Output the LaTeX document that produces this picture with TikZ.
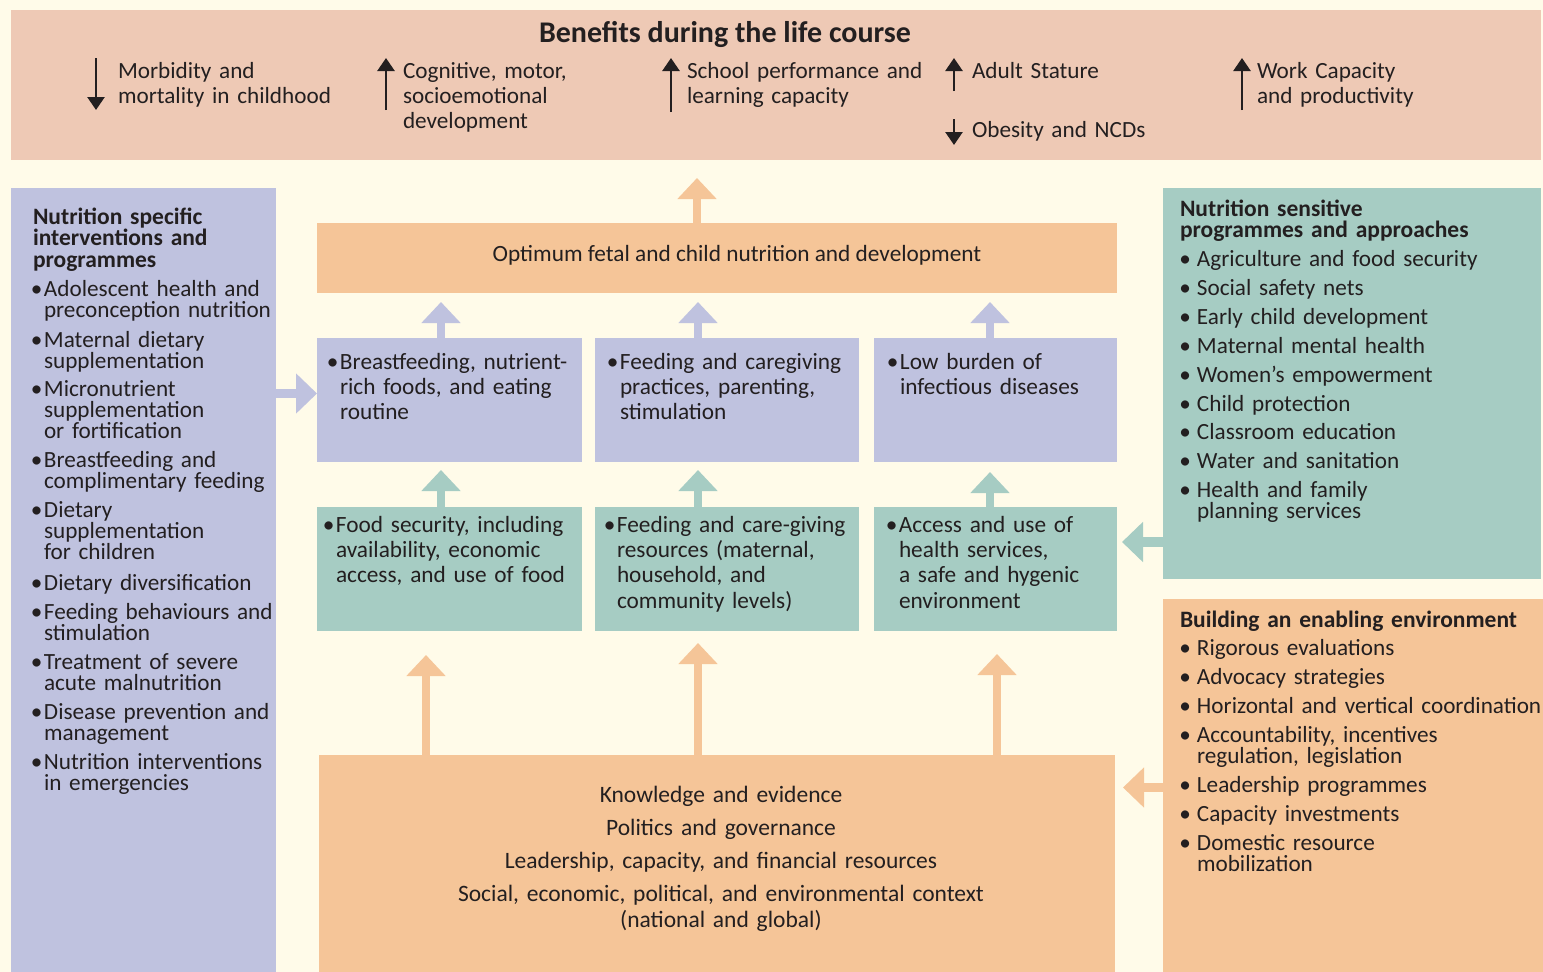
\documentclass[tikz,border=0pt]{standalone}
\usepackage{fontspec}
\setmainfont{Carlito}
\usetikzlibrary{arrows.meta}
\definecolor{bgc}{HTML}{FFFBE9}
\definecolor{topc}{HTML}{EEC9B5}
\definecolor{purc}{HTML}{BFC2DF}
\definecolor{tealc}{HTML}{A6CCC3}
\definecolor{orc}{HTML}{F5C598}
\definecolor{ink}{HTML}{231F20}
\lineskiplimit=-100pt
\newcommand\bodyf{\fontsize{23.2}{21}\selectfont\lineskiplimit=-100pt}
\newcommand\boxf{\fontsize{23.3}{25.4}\selectfont\lineskiplimit=-100pt}
\newcommand\benf{\fontsize{23.2}{25}\selectfont\lineskiplimit=-100pt}
\newcommand\headf{\fontsize{23.5}{21.5}\selectfont\bfseries\lineskiplimit=-100pt}
\newcommand\headrf{\fontsize{23.5}{21}\selectfont\bfseries\lineskiplimit=-100pt}
\newcommand\titlef{\fontsize{30}{32}\selectfont\bfseries}
\newcommand\botf{\fontsize{23.5}{26}\selectfont\lineskiplimit=-100pt}
\newcommand\lb{\llap{•\hspace{1.5pt}}}
\newcommand\rb{\llap{•\hspace{6pt}}}
\begin{document}
\begin{tikzpicture}[x=1pt,y=-1pt,
  box/.style={anchor=north west,inner sep=0pt,outer sep=0pt,draw=none},
  txt/.style={anchor=base west,inner sep=0pt,outer sep=0pt,text=ink,align=left,text width=420pt,font=\bodyf},
  btxt/.style={txt,font=\boxf},
  ntxt/.style={txt,font=\benf},
  htxt/.style={txt,font=\headf},
  ctxt/.style={anchor=base,inner sep=0pt,outer sep=0pt,text=ink,align=center,text width=700pt,font=\botf},
  blk/.style={line width=8.5pt,-{Triangle[width=38pt,length=21pt]}},
  hblk/.style={line width=9.5pt,-{Triangle[width=39pt,length=21pt]}},
  barrow/.style={draw=ink,line width=2.6pt,-{Triangle[width=17pt,length=13pt]}}]
\useasboundingbox (0,0) rectangle (1543,972);
\fill[bgc] (0,0) rectangle (1543,972);

% ---------- boxes ----------
\node[box,fill=topc,minimum width=1530pt,minimum height=150pt] (top) at (11,10) {};
\node[box,fill=purc,minimum width=265pt,minimum height=784pt] (lbox) at (11,188) {};
\node[box,fill=orc,minimum width=800pt,minimum height=70pt] (opt) at (317,223) {};
\node[box,fill=purc,minimum width=265pt,minimum height=124pt] (pb1) at (317,338) {};
\node[box,fill=purc,minimum width=264pt,minimum height=124pt] (pb2) at (595,338) {};
\node[box,fill=purc,minimum width=243pt,minimum height=124pt] (pb3) at (874,338) {};
\node[box,fill=tealc,minimum width=265pt,minimum height=124pt] (tb1) at (317,507) {};
\node[box,fill=tealc,minimum width=264pt,minimum height=124pt] (tb2) at (595,507) {};
\node[box,fill=tealc,minimum width=243pt,minimum height=124pt] (tb3) at (874,507) {};
\node[box,fill=orc,minimum width=796pt,minimum height=217pt] (bot) at (319,755) {};
\node[box,fill=tealc,minimum width=378pt,minimum height=391pt] (rt) at (1163,188) {};
\node[box,fill=orc,minimum width=380pt,minimum height=373pt] (ro) at (1163,599) {};

% ---------- benefits ----------
\node[anchor=base,inner sep=0pt,text=ink,font=\titlef] (title) at (725,42) {Benefits during the life course};
\node[ntxt] (ben1) at (118,78) {Morbidity and\\mortality in childhood};
\node[ntxt] (ben2) at (403,78) {Cognitive, motor,\\socioemotional\\development};
\node[ntxt] (ben3) at (687,78) {School performance and\\learning capacity};
\node[ntxt] (ben4) at (972,78) {Adult Stature};
\node[ntxt] (ben5) at (972,137) {Obesity and NCDs};
\node[ntxt] (ben6) at (1257,78) {Work Capacity\\and productivity};
\coordinate (a1s) at (96,58);   \coordinate (a1e) at (96,110);
\coordinate (a2s) at (386,110); \coordinate (a2e) at (386,58);
\coordinate (a3s) at (671,112); \coordinate (a3e) at (671,58);
\coordinate (a4s) at (954,91);  \coordinate (a4e) at (954,58);
\coordinate (a5s) at (954,119); \coordinate (a5e) at (954,145);
\coordinate (a6s) at (1242,110);\coordinate (a6e) at (1242,58);
\draw[barrow] (a1s) -- (a1e);
\draw[barrow] (a2s) -- (a2e);
\draw[barrow] (a3s) -- (a3e);
\draw[barrow] (a4s) -- (a4e);
\draw[barrow] (a5s) -- (a5e);
\draw[barrow] (a6s) -- (a6e);

% ---------- left list ----------
\node[htxt] (lh) at (33,224) {Nutrition specific\\interventions and\\programmes};
\node[txt] (l1) at (44,296) {\lb Adolescent health and\\preconception nutrition};
\node[txt] (l2) at (44,347) {\lb Maternal dietary\\supplementation};
\node[txt] (l3) at (44,396) {\lb Micronutrient\\supplementation\\or fortification};
\node[txt] (l4) at (44,467) {\lb Breastfeeding and\\complimentary feeding};
\node[txt] (l5) at (44,517) {\lb Dietary\\supplementation\\for children};
\node[txt] (l6) at (44,590) {\lb Dietary diversification};
\node[txt] (l7) at (44,619) {\lb Feeding behaviours and\\stimulation};
\node[txt] (l8) at (44,669) {\lb Treatment of severe\\acute malnutrition};
\node[txt] (l9) at (44,719) {\lb Disease prevention and\\management};
\node[txt] (l10) at (44,769) {\lb Nutrition interventions\\in emergencies};

% ---------- central texts ----------
\node[anchor=base,inner sep=0pt,text=ink,font=\boxf] (optt) at (737,261) {Optimum fetal and child nutrition and development};
\node[btxt] (p1) at (340,369) {\lb Breastfeeding, nutrient-\\rich foods, and eating\\routine};
\node[btxt] (p2) at (620,369) {\lb Feeding and caregiving\\practices, parenting,\\stimulation};
\node[btxt] (p3) at (900,369) {\lb Low burden of\\infectious diseases};
\node[btxt] (t1) at (336,532) {\lb Food security, including\\availability, economic\\access, and use of food};
\node[btxt] (t2) at (617,532) {\lb Feeding and care-giving\\resources (maternal,\\household, and\\community levels)};
\node[btxt] (t3) at (899,532) {\lb Access and use of\\health services,\\a safe and hygenic\\environment};
\node[ctxt] (b1) at (721,802) {Knowledge and evidence};
\node[ctxt] (b2) at (721,835) {Politics and governance};
\node[ctxt] (b3) at (721,868) {Leadership, capacity, and financial resources};
\node[ctxt] (b4) at (721,901) {Social, economic, political, and environmental context\\(national and global)};

% ---------- right teal list ----------
\node[txt,font=\headrf] (rh) at (1180,216) {Nutrition sensitive\\programmes and approaches};
\node[txt] (r1) at (1197,266) {\rb Agriculture and food security};
\node[txt] (r2) at (1197,295) {\rb Social safety nets};
\node[txt] (r3) at (1197,324) {\rb Early child development};
\node[txt] (r4) at (1197,353) {\rb Maternal mental health};
\node[txt] (r5) at (1197,382) {\rb Women’s empowerment};
\node[txt] (r6) at (1197,411) {\rb Child protection};
\node[txt] (r7) at (1197,439) {\rb Classroom education};
\node[txt] (r8) at (1197,468) {\rb Water and sanitation};
\node[txt] (r9) at (1197,497) {\rb Health and family\\planning services};

% ---------- right orange list ----------
\node[htxt] (oh) at (1180,627) {Building an enabling environment};
\node[txt] (o1) at (1197,655) {\rb Rigorous evaluations};
\node[txt] (o2) at (1197,684) {\rb Advocacy strategies};
\node[txt] (o3) at (1197,713) {\rb Horizontal and vertical coordination};
\node[txt] (o4) at (1197,742) {\rb Accountability, incentives\\regulation, legislation};
\node[txt] (o5) at (1197,792) {\rb Leadership programmes};
\node[txt] (o6) at (1197,821) {\rb Capacity investments};
\node[txt] (o7) at (1197,850) {\rb Domestic resource\\mobilization};

% ---------- block arrows ----------
\coordinate (xo) at (697,0);
\coordinate (x1) at (441,0);
\coordinate (x2) at (698,0);
\coordinate (x3) at (990,0);
\coordinate (xb1) at (426,0);
\coordinate (xb3) at (997,0);
\coordinate (yl) at (0,393.5);
\coordinate (yt) at (0,542);
\coordinate (yo) at (0,787.5);
\draw[blk,orc,shorten >=18pt] (xo |- opt.north) -- (xo |- top.south);
\draw[blk,purc,shorten >=9pt] (x1 |- pb1.north) -- (x1 |- opt.south);
\draw[blk,purc,shorten >=9pt] (x2 |- pb2.north) -- (x2 |- opt.south);
\draw[blk,purc,shorten >=9pt] (x3 |- pb3.north) -- (x3 |- opt.south);
\draw[blk,tealc,shorten >=8pt] (x1 |- tb1.north) -- (x1 |- pb1.south);
\draw[blk,tealc,shorten >=8pt] (x2 |- tb2.north) -- (x2 |- pb2.south);
\draw[blk,tealc,shorten >=10pt] (x3 |- tb3.north) -- (x3 |- pb3.south);
\draw[blk,orc,shorten >=24pt] (xb1 |- bot.north) -- (xb1 |- tb1.south);
\draw[blk,orc,shorten >=12pt] (x2 |- bot.north) -- (x2 |- tb2.south);
\draw[blk,orc,shorten >=23pt] (xb3 |- bot.north) -- (xb3 |- tb3.south);
\draw[hblk,purc] (yl -| lbox.east) -- (yl -| pb1.west);
\draw[hblk,tealc,shorten >=5pt] (yt -| rt.west) -- (yt -| tb3.east);
\draw[hblk,orc,shorten >=8pt] (yo -| ro.west) -- (yo -| bot.east);
\end{tikzpicture}
\end{document}
